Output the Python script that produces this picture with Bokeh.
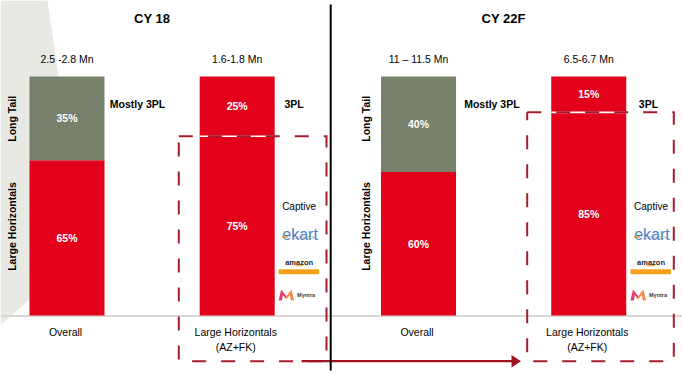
import math
from bokeh.plotting import figure
from bokeh.models import ColumnDataSource, FactorRange, Range1d, LinearScale
from bokeh.transform import dodge
from bokeh.core.properties import value
from bokeh.embed import file_html
from bokeh.resources import INLINE

# ---------------- data ----------------
bar_periods = ["CY 18", "CY 18", "CY 22F", "CY 22F"]
bar_segments = ["Overall", "Large Horizontals", "Overall", "Large Horizontals"]
large_horizontals_share = [65, 75, 60, 85]   # % (lower segment)
long_tail_share = [35, 25, 40, 15]           # % (upper segment)
volume_labels = ["2.5 -2.8 Mn", "1.6-1.8 Mn", "11 \u2013 11.5 Mn", "6.5-6.7 Mn"]
segment_labels = ["Overall", "Large Horizontals", "Overall", "Large Horizontals"]
segment_sublabels = ["", "(AZ+FK)", "", "(AZ+FK)"]
delivery_modes = ["Mostly 3PL", "3PL", "Mostly 3PL", "3PL"]
period_titles = ["CY 18", "CY 22F"]
stack_names = ["Long Tail", "Large Horizontals"]
captive_title = "Captive"
captive_brands = ["ekart", "amazon", "Myntra"]

# ---------------- styles / layout ----------------
RED = "#E2001A"
GREEN = "#76806A"
BOX_RED = "#A71C2B"
ARROW_RED = "#A0141F"
BG_GRAY = "#E9E9E4"
BASE_GRAY = "#DAD6D6"
FONT = value("Liberation Sans")

W, H = 682, 374
X0, Y0 = 0, 0
FP, GP, RP = 1.2, 1.344, 0.13837    # factor / group / range padding
SHIFT = -0.1762                     # horizontal offset of the bar slots
BAR_W = 0.9695
LABEL_SHIFT = SHIFT - 0.019

T = 4 + 2 * FP + GP
U = W / (T * (1 + RP))


def sx(px):
    """reference-pixel x -> synthetic categorical coordinate"""
    return -T * RP / 2 + (px - X0) / U


def X(seq):
    return [sx(v) for v in seq]


factors = list(zip(bar_periods, bar_segments))
cat_range = FactorRange(factors=factors, factor_padding=FP, group_padding=GP,
                        range_padding=RP, range_padding_units="percent")

p = figure(width=W, height=H, output_backend="svg", toolbar_location=None,
           x_range=cat_range, y_range=Range1d(Y0 + H, Y0),
           min_border=0, x_axis_location=None, y_axis_location=None,
           outline_line_color=None, title=None,
           background_fill_color="white", border_fill_color="white")
p.xgrid.grid_line_color = None
p.ygrid.grid_line_color = None
p.extra_y_ranges = {"pct": Range1d(-24.69, 131.80)}
p.extra_y_scales = {"pct": LinearScale()}

upper_colors = [GREEN if s == "Overall" else RED for s in bar_segments]
src = ColumnDataSource(dict(
    x=factors,
    lh=large_horizontals_share,
    top=[a + b for a, b in zip(large_horizontals_share, long_tail_share)],
    lh_mid=[a / 2 for a in large_horizontals_share],
    lt_mid=[a + b / 2 for a, b in zip(large_horizontals_share, long_tail_share)],
    lh_txt=[f"{a}%" for a in large_horizontals_share],
    lt_txt=[f"{b}%" for b in long_tail_share],
    upper_color=upper_colors,
    vol=volume_labels,
    seg=segment_labels,
    sub=segment_sublabels,
))
xd = dodge("x", SHIFT, range=cat_range)

# background decoration
p.patch(X([0, 47, 58, 70, 28, 0]), [0, 0, 76, 160, 300, 325],
        fill_color=BG_GRAY, line_color=None)
p.line(X([0, 682]), [315.6, 315.6], line_color=BASE_GRAY, line_width=2)

# bars
p.vbar(x=xd, width=BAR_W, bottom=0, top="lh", source=src, fill_color=RED,
       line_color=None, y_range_name="pct")
p.vbar(x=xd, width=BAR_W, bottom="lh", top="top", source=src,
       fill_color="upper_color", line_color=None, y_range_name="pct")

# white split for large-horizontal bars
lh_idx = [i for i, s in enumerate(bar_segments) if s != "Overall"]
src_lh = ColumnDataSource(dict(x=[factors[i] for i in lh_idx],
                               lh=[large_horizontals_share[i] for i in lh_idx]))
p.segment(x0=dodge("x", SHIFT - BAR_W / 2, range=cat_range),
          x1=dodge("x", SHIFT + BAR_W / 2, range=cat_range),
          y0="lh", y1="lh", source=src_lh, line_color="white", line_width=1.6,
          y_range_name="pct")

# percent labels
for ycol, tcol in (("lh_mid", "lh_txt"), ("lt_mid", "lt_txt")):
    p.text(x=xd, y=ycol, text=tcol, source=src, text_color="white",
           text_font=FONT, text_font_style="bold", text_font_size="10.5px",
           text_align="center", text_baseline="middle", y_range_name="pct")

# dashed boxes around the large-horizontal segments
box_lr = [(178.3, 326.0), (526.7, 673.3)]
BOX_BOTTOM = -19.12
xs, ys = [], []
for (l, r), i in zip(box_lr, lh_idx):
    t = large_horizontals_share[i]
    xs.append(X([l, r, r, l, l]))
    ys.append([t, t, BOX_BOTTOM, BOX_BOTTOM, t])
p.multi_line(xs, ys, line_color=BOX_RED, line_width=2, line_dash="14 15",
             line_join="miter", y_range_name="pct")

# arrow between the two periods
p.line(X([301, 512]), [360.7, 360.7], line_color=ARROW_RED, line_width=2.2)
p.patch(X([511, 520.5, 511]), [354.5, 360.7, 367], fill_color=ARROW_RED,
        line_color=None)

# divider
p.line(X([330.2, 330.2]), [4, 370], line_color="black", line_width=2)

# period titles
p.text(x=dodge("t", SHIFT, range=cat_range), y=18,
       text="t", source=ColumnDataSource(dict(t=period_titles)),
       text_font=FONT, text_font_style="bold", text_font_size="13px",
       text_color="black", text_align="center", text_baseline="middle")

# volume labels above bars
p.text(x=xd, y=58.3, text="vol", source=src, text_font=FONT,
       text_font_size="10.5px", text_color="black", text_align="center",
       text_baseline="middle")

# segment labels below bars
xl = dodge("x", LABEL_SHIFT, range=cat_range)
p.text(x=xl, y=331, text="seg", source=src, text_font=FONT,
       text_font_size="10.5px", text_color="black", text_align="center",
       text_baseline="middle")
p.text(x=xl, y=346.3, text="sub", source=src, text_font=FONT,
       text_font_size="10.5px", text_color="black", text_align="center",
       text_baseline="middle")

# delivery mode labels
p.text(x=X([109.3, 284.0, 463.7, 638.3]), y=[103.5] * 4, text=delivery_modes,
       text_font=FONT, text_font_style="bold", text_font_size="10.5px",
       text_color="black", text_align="left", text_baseline="middle")

# rotated stack names
p.text(x=X([11, 11, 365, 365]), y=[118.3, 226, 118.3, 226],
       text=stack_names * 2, angle=math.pi / 2,
       text_font=FONT, text_font_style="bold", text_font_size="10.5px",
       text_color="black", text_align="center", text_baseline="middle")

# captive logos (approximated)
anchors = [298.6, 650.5]
p.text(x=X(anchors), y=[206, 206], text=[captive_title] * 2, text_font=FONT,
       text_font_size="10px", text_color="black", text_align="center",
       text_baseline="middle")
p.text(x=X([a + 1 for a in anchors]), y=[233.5, 233.5],
       text=[captive_brands[0]] * 2,
       text_font=FONT, text_font_size="16px", text_color="#4A80C6",
       text_align="center", text_baseline="alphabetic")
p.text(x=X([a + 5 for a in anchors]), y=[236.5, 236.5], text=["LOGISTICS"] * 2,
       text_font=FONT, text_font_size="4px", text_color="#8A8A8A",
       text_align="center", text_baseline="middle")
p.segment(x0=X([a - 17 for a in anchors]), x1=X([a - 11 for a in anchors]),
          y0=[236.5] * 2, y1=[236.5] * 2, line_color="#F39A2B", line_width=1.5)
p.text(x=X(anchors), y=[261.5, 261.5], text=[captive_brands[1]] * 2,
       text_font=FONT, text_font_style="bold", text_font_size="7.5px",
       text_color="#231F20", text_align="center", text_baseline="middle")
p.segment(x0=X([a - 4 for a in anchors]), x1=X([a + 4 for a in anchors]),
          y0=[265.3] * 2, y1=[265.3] * 2, line_color="#F39A2B", line_width=1)
p.quad(left=X([a - 20.5 for a in anchors]), right=X([a + 20 for a in anchors]),
       top=[268.7] * 2, bottom=[273.7] * 2, fill_color="#F6A21D", line_color=None)
mw, mh, mt = 15.5, 11.0, 289.0
left_m = [(0, mh), (2.5, 0), (7.75, 6.5), (7.75, 10), (4.3, 5.5), (3.3, mh)]
right_m = [(mw - dx, dy) for dx, dy in left_m]
for a in anchors:
    x0 = a - 20.5
    p.patch(X([x0 + dx for dx, _ in left_m]), [mt + dy for _, dy in left_m],
            fill_color="#E93B6E", line_color=None)
    p.patch(X([x0 + dx for dx, _ in right_m]), [mt + dy for _, dy in right_m],
            fill_color="#F58A52", line_color=None)
p.text(x=X([a + 7 for a in anchors]), y=[294.5, 294.5],
       text=[captive_brands[2]] * 2,
       text_font=FONT, text_font_style="bold", text_font_size="5.5px",
       text_color="#3A3A3A", text_align="center", text_baseline="middle")

open("out.html", "w").write(file_html(p, INLINE))
